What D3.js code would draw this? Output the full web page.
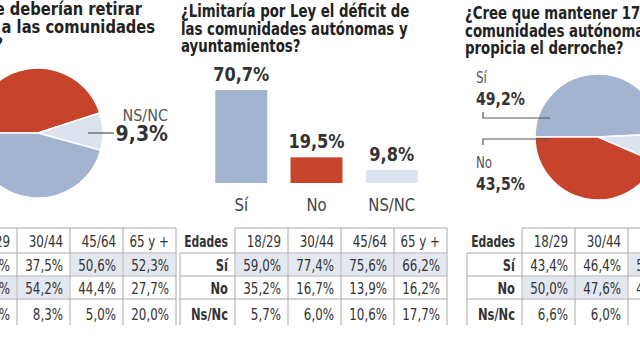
<!DOCTYPE html>
<html>
<head>
<meta charset="utf-8">
<script src="https://cdn.jsdelivr.net/npm/d3@7"></script>
<style>
  body { margin: 0; background: #fff; }
  svg { display: block; font-family: 'Liberation Sans Narrow', 'DejaVu Sans Condensed', sans-serif; font-stretch: condensed; }
</style>
</head>
<body>
<div class="chart"></div>
<script>
// answers (totals)
var answers = ["Sí", "No", "NS/NC"];
var retirarTotals = [45.7, 45.0, 9.3];
var limitarTotals = [70.7, 19.5, 9.8];
var derrocheTotals = [49.2, 43.5, 7.3];

// tables by age
var ageGroups = ["18/29", "30/44", "45/64", "65 y +"];
var rowLabels = ["Sí", "No", "Ns/Nc"];
var retirarSi = [33.9, 37.5, 50.6, 52.3];
var retirarNo = [57.3, 54.2, 44.4, 27.7];
var retirarNsnc = [8.8, 8.3, 5.0, 20.0];
var limitarSi = [59.0, 77.4, 75.6, 66.2];
var limitarNo = [35.2, 16.7, 13.9, 16.2];
var limitarNsnc = [5.7, 6.0, 10.6, 17.7];
var derrocheSi = [43.4, 46.4, 52.8, 54.1];
var derrocheNo = [50.0, 47.6, 41.5, 37.9];
var derrocheNsnc = [6.6, 6.0, 5.7, 8.0];

var width = 640, height = 360;
var blue = "#a2b4d0", red = "#c8432b", light = "#dde3ee";
var colorOf = { "Sí": blue, "No": red, "NS/NC": light };

var fmt = function (v) { return d3.format(".1f")(v).replace(".", ",") + "%"; };

var svg = d3.select(".chart").append("svg")
  .attr("width", width)
  .attr("height", height);

// text squeezed horizontally (the paper uses a condensed face)
function txt(parent, x, y, s, o) {
  o = o || {};
  return parent.append("g")
    .attr("transform", "translate(" + x + "," + y + ") scale(" + (o.sx || 0.88) + ",1)")
    .append("text")
    .attr("text-anchor", o.anchor || "start")
    .attr("font-size", o.size || 15)
    .attr("font-weight", o.bold ? "bold" : "normal")
    .attr("fill", o.fill || "#333")
    .text(s);
}

// titles
function title(lines, xs, y0, sx) {
  lines.forEach(function (l, i) {
    txt(svg, xs[i][0], y0 + i * 17.5, l,
      { anchor: xs[i][1], size: 17, bold: true, fill: "#222", sx: sx });
  });
}
title(["¿Cree que se deberían retirar", "competencias a las comunidades", "autónomas?"],
  [[142, "end"], [155, "end"], [3, "end"]], 15, 0.96);
title(["¿Limitaría por Ley el déficit de", "las comunidades autónomas y", "ayuntamientos?"],
  [[181, "start"], [181, "start"], [181, "start"]], 17, 0.87);
title(["¿Cree que mantener 17", "comunidades autónomas", "propicia el derroche?"],
  [[465, "start"], [465, "start"], [465, "start"]], 19, 0.87);

// pies
function drawPie(values, order, cx, cy, r) {
  var pie = d3.pie().sort(null).value(function (d) { return d.v; })
    .startAngle(-Math.PI / 2).endAngle(1.5 * Math.PI);
  var data = order.map(function (k) { return { k: k, v: values[answers.indexOf(k)] }; });
  var arc = d3.arc().innerRadius(0).outerRadius(r);
  svg.append("g").attr("transform", "translate(" + cx + "," + cy + ")")
    .selectAll("path")
    .data(pie(data))
    .enter()
    .append("path")
    .attr("d", arc)
    .attr("fill", function (d) { return colorOf[d.data.k]; })
    .attr("stroke", "#fff")
    .attr("stroke-width", 1.5);
}
drawPie(retirarTotals, ["No", "NS/NC", "Sí"], 38, 133, 65);
drawPie(derrocheTotals, ["Sí", "NS/NC", "No"], 598, 137, 63);

// pie labels
var line = d3.line();
function leader(pts) {
  svg.append("path").attr("d", line(pts))
    .attr("fill", "none").attr("stroke", "#555").attr("stroke-width", 1.2);
}
txt(svg, 168, 121, answers[2], { anchor: "end", size: 16, fill: "#555", sx: 1 });
txt(svg, 168, 141, fmt(retirarTotals[2]), { anchor: "end", size: 21, bold: true, sx: 1 });
leader([[88, 133], [114, 133]]);

txt(svg, 476, 83, answers[0], { size: 15, fill: "#555" });
txt(svg, 476, 105, fmt(derrocheTotals[0]), { size: 18, bold: true, sx: 0.87 });
leader([[483, 112], [483, 118], [550, 118]]);
txt(svg, 476, 168, answers[1], { size: 15, fill: "#555" });
txt(svg, 476, 190, fmt(derrocheTotals[1]), { size: 18, bold: true, sx: 0.87 });
leader([[483, 145], [483, 139], [550, 139]]);

// bars
var x = d3.scaleBand().domain(answers).range([204, 429])
  .paddingInner(0.31).paddingOuter(0.15);
var y = d3.scaleLinear().domain([0, 100]).range([183, 183 - 131.5]);
var bars = svg.append("g");
bars.selectAll("rect")
  .data(limitarTotals)
  .enter()
  .append("rect")
  .attr("x", function (d, i) { return x(answers[i]); })
  .attr("y", function (d) { return y(d); })
  .attr("width", x.bandwidth())
  .attr("height", function (d) { return y(0) - y(d); })
  .attr("fill", function (d, i) { return colorOf[answers[i]]; });
limitarTotals.forEach(function (d, i) {
  txt(bars, x(answers[i]) + x.bandwidth() / 2, y(d) - 9, fmt(d),
    { anchor: "middle", size: 20, bold: true, sx: 0.9 });
  txt(bars, x(answers[i]) + x.bandwidth() / 2, 211, answers[i],
    { anchor: "middle", size: 17, fill: "#444", sx: 0.97 });
});

// tables
var rowEdges = [228, 253, 276, 299, 325];
function drawTable(left, rows) {
  var labelW = 55, colW = 53;
  var cx = d3.scaleBand().domain(ageGroups)
    .range([left + labelW, left + labelW + colW * ageGroups.length]);
  var g = svg.append("g");
  // shading: larger of Sí / No in each column
  ageGroups.forEach(function (a, j) {
    var r = rows[0][j] >= rows[1][j] ? 0 : 1;
    g.append("rect")
      .attr("x", cx(a) + 1).attr("y", rowEdges[r + 1] + 1)
      .attr("width", cx.bandwidth() - 2)
      .attr("height", rowEdges[r + 2] - rowEdges[r + 1] - 2)
      .attr("fill", "#e3e8f0");
  });
  var gridColor = "#a8a8a8";
  // horizontal
  g.append("line").attr("x1", cx.range()[0]).attr("x2", cx.range()[1])
    .attr("y1", rowEdges[0]).attr("y2", rowEdges[0]).attr("stroke", gridColor);
  [1, 2, 3].forEach(function (i) {
    g.append("line").attr("x1", left).attr("x2", cx.range()[1])
      .attr("y1", rowEdges[i]).attr("y2", rowEdges[i]).attr("stroke", gridColor);
  });
  // vertical
  g.append("line").attr("x1", left).attr("x2", left)
    .attr("y1", rowEdges[1]).attr("y2", rowEdges[4]).attr("stroke", gridColor);
  ageGroups.forEach(function (a) {
    g.append("line").attr("x1", cx(a)).attr("x2", cx(a))
      .attr("y1", rowEdges[0]).attr("y2", rowEdges[4]).attr("stroke", gridColor);
  });
  g.append("line").attr("x1", cx.range()[1]).attr("x2", cx.range()[1])
    .attr("y1", rowEdges[0]).attr("y2", rowEdges[4]).attr("stroke", gridColor);
  // header
  txt(g, left + labelW - 7, 247, "Edades", { anchor: "end", size: 15, bold: true, sx: 0.8 });
  ageGroups.forEach(function (a) {
    txt(g, cx(a) + cx.bandwidth() - 7, 247, a, { anchor: "end", size: 15, sx: 0.88 });
  });
  // rows
  rows.forEach(function (vals, i) {
    var yb = rowEdges[i + 2] - 5;
    txt(g, left + labelW - 7, yb, rowLabels[i], { anchor: "end", size: 15, bold: true, sx: 0.85 });
    vals.forEach(function (v, j) {
      txt(g, cx(ageGroups[j]) + cx.bandwidth() - 7, yb, fmt(v), { anchor: "end", size: 15, sx: 0.88 });
    });
  });
}
drawTable(-91, [retirarSi, retirarNo, retirarNsnc]);
drawTable(180, [limitarSi, limitarNo, limitarNsnc]);
drawTable(467, [derrocheSi, derrocheNo, derrocheNsnc]);
</script>
</body>
</html>
